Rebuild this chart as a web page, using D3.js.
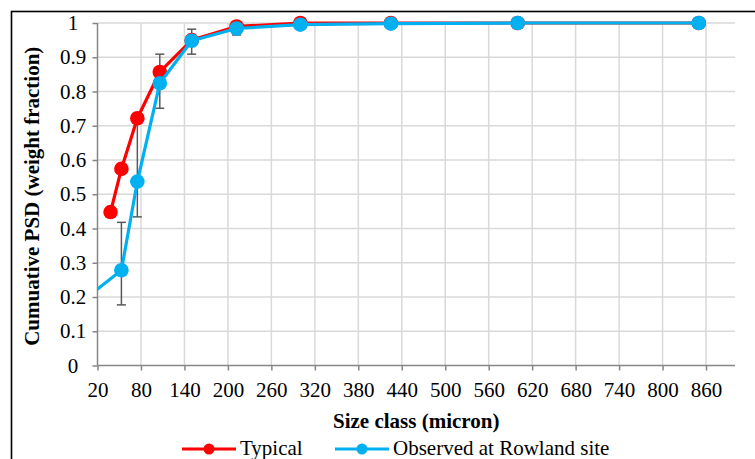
<!DOCTYPE html>
<html>
<head>
<meta charset="utf-8">
<script src="https://cdn.jsdelivr.net/npm/d3@7"></script>
<style>
  html, body { margin: 0; padding: 0; background: #fff; }
  svg { display: block; }
  svg text { font-family: 'Liberation Serif', 'Times New Roman', serif; }
</style>
</head>
<body>
<svg id="chart" width="755" height="459"></svg>
<script>
// Cumulative particle size distribution, two series
const typicalSizes = [38, 53, 75, 106, 150, 212, 300, 425, 600, 850];
const typicalValues = [0.448, 0.574, 0.722, 0.857, 0.95, 0.99, 1.0, 1.0, 1.0, 1.0];

// first point sits below the axis minimum and is clipped
const observedSizes = [0, 53, 75, 106, 150, 212, 300, 425, 600, 850];
const observedValues = [0.19, 0.278, 0.537, 0.824, 0.948, 0.984, 0.995, 0.998, 1.0, 1.0];
const observedMarked = [false, true, true, true, true, true, true, true, true, true];

// error bars on the observed series
const errSizes = [53, 75, 106, 150, 212];
const errUpper = [0.418, 0.715, 0.909, 0.982, 1.0];
const errLower = [0.177, 0.434, 0.751, 0.909, 0.965];

const xTicks = d3.range(20, 861, 60);
const yTicks = d3.range(0, 11).map(d => d / 10);

const seriesNames = ["Typical", "Observed at Rowland site"];
const seriesColors = ["#FF0000", "#00B0F0"];

const FONT = "'Liberation Serif', 'Times New Roman', serif";

const svg = d3.select("#chart");
const plot = { left: 97.5, right: 735, top: 23, bottom: 365.5 };

const x = d3.scaleLinear().domain([20, 900]).range([plot.left, plot.right]);
const y = d3.scaleLinear().domain([0, 1]).range([plot.bottom, plot.top]);

// outer frame
svg.append("rect")
  .attr("x", 11.5).attr("y", 11.5)
  .attr("width", 800).attr("height", 500)
  .attr("fill", "none").attr("stroke", "#000").attr("stroke-width", 1.6);

svg.append("defs").append("clipPath").attr("id", "plotClip")
  .append("rect")
  .attr("x", plot.left).attr("y", plot.top - 10)
  .attr("width", plot.right - plot.left + 10).attr("height", plot.bottom - plot.top + 10);

// gridlines
const grid = svg.append("g").attr("stroke", "#D9D9D9").attr("stroke-width", 1.5);
grid.selectAll("line.h").data(yTicks.filter(d => d > 0)).join("line")
  .attr("x1", plot.left).attr("x2", plot.right)
  .attr("y1", d => y(d)).attr("y2", d => y(d));
grid.selectAll("line.v").data(xTicks.filter(d => d > 20)).join("line")
  .attr("x1", d => x(d)).attr("x2", d => x(d))
  .attr("y1", plot.top).attr("y2", plot.bottom);

// axes
const xAxis = svg.append("g")
  .attr("transform", `translate(0,${plot.bottom})`)
  .call(d3.axisBottom(x).tickValues(xTicks).tickSize(5).tickPadding(12).tickFormat(d3.format("d")));
const yAxis = svg.append("g")
  .attr("transform", `translate(${plot.left},0)`)
  .call(d3.axisLeft(y).tickValues(yTicks).tickSize(5).tickPadding(14).tickFormat(d => d === 0 || d === 1 ? String(d) : d.toFixed(1)));

[xAxis, yAxis].forEach(a => {
  a.attr("font-family", null).attr("font-size", null);
  a.select(".domain").attr("stroke", "#868686").attr("stroke-width", 1.5);
  a.selectAll(".tick line").attr("stroke", "#868686").attr("stroke-width", 1.5);
  a.selectAll(".tick text").attr("fill", "#000")
    .style("font-family", FONT).style("font-size", "21px");
});
xAxis.select(".domain").attr("d", `M${plot.left},0H${plot.right}`);
yAxis.select(".domain").attr("d", `M0,${plot.bottom}V${plot.top}`);
yAxis.selectAll(".tick text").attr("text-anchor", "middle").attr("x", -24.5);
xAxis.selectAll(".tick text").attr("dy", "0.71em");

// error bars
const eb = svg.append("g").attr("stroke", "#595959").attr("stroke-width", 1.5);
errSizes.forEach((s, i) => {
  const cx = x(s);
  eb.append("line").attr("x1", cx).attr("x2", cx).attr("y1", y(errUpper[i])).attr("y2", y(errLower[i]));
  eb.append("line").attr("x1", cx - 4.5).attr("x2", cx + 4.5).attr("y1", y(errUpper[i])).attr("y2", y(errUpper[i]));
  eb.append("line").attr("x1", cx - 4.5).attr("x2", cx + 4.5).attr("y1", y(errLower[i])).attr("y2", y(errLower[i]));
});

const line = d3.line().x(d => x(d[0])).y(d => y(d[1]));

const series = [
  { pts: typicalSizes.map((s, i) => [s, typicalValues[i], true]), color: seriesColors[0] },
  { pts: observedSizes.map((s, i) => [s, observedValues[i], observedMarked[i]]), color: seriesColors[1] }
];

series.forEach(sr => {
  const g = svg.append("g").attr("clip-path", "url(#plotClip)");
  g.append("path").datum(sr.pts)
    .attr("d", line).attr("fill", "none")
    .attr("stroke", sr.color).attr("stroke-width", 3.2).attr("stroke-linejoin", "round");
  g.selectAll("circle").data(sr.pts.filter(p => p[2])).join("circle")
    .attr("cx", d => x(d[0])).attr("cy", d => y(d[1])).attr("r", 7.3)
    .attr("fill", sr.color);
});

// axis titles
svg.append("text")
  .attr("x", (plot.left + plot.right) / 2).attr("y", 428)
  .attr("text-anchor", "middle").style("font-size", "21px").style("font-weight", "bold")
  .text("Size class (micron)");
svg.append("text")
  .attr("transform", `translate(39,${(plot.top + plot.bottom) / 2 + 2}) rotate(-90)`)
  .attr("text-anchor", "middle").style("font-size", "21px").style("font-weight", "bold")
  .text("Cumuative PSD (weight fraction)");

// legend
const legendX = [182, 335];
const legend = svg.append("g");
seriesNames.forEach((name, i) => {
  const lx = legendX[i];
  legend.append("line").attr("x1", lx).attr("x2", lx + 54).attr("y1", 449).attr("y2", 449)
    .attr("stroke", seriesColors[i]).attr("stroke-width", 3.2);
  legend.append("circle").attr("cx", lx + 27).attr("cy", 449).attr("r", 5.5).attr("fill", seriesColors[i]);
  legend.append("text").attr("x", lx + 58).attr("y", 455)
    .style("font-size", "21px").text(name);
});
</script>
</body>
</html>
